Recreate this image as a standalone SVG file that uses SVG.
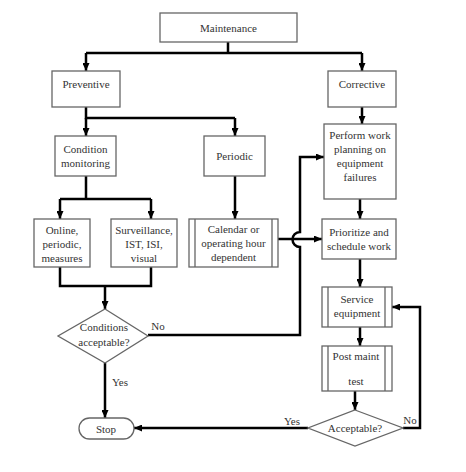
<svg xmlns="http://www.w3.org/2000/svg" width="466" height="472" viewBox="0 0 466 472" font-family="'Liberation Serif', 'Times New Roman', 'DejaVu Serif', serif">
<defs>
<marker id="ah" markerWidth="8" markerHeight="7" refX="8" refY="3.5" orient="auto" markerUnits="userSpaceOnUse">
<path d="M0,0 L8,3.5 L0,7 z" fill="#000"/>
</marker>
<style>
.box{fill:#fff;stroke:#666;stroke-width:1.3}
.in{fill:none;stroke:#666;stroke-width:1.3}
.t{font-family:'Liberation Serif','Times New Roman',serif;font-size:11px;fill:#333;text-anchor:middle}
.c{fill:none;stroke:#000;stroke-width:2.5}
.a{marker-end:url(#ah)}
</style>
</defs>
<rect width="466" height="472" fill="#fff"/>
<g id="connectors">
<path class="c" d="M228,42 V53 M86,53 H362"/>
<path class="c a" d="M86,53 V71"/>
<path class="c a" d="M362,53 V71"/>
<path class="c" d="M86,107 V118 H235"/>
<path class="c a" d="M86,118 V136"/>
<path class="c a" d="M235,118 V136"/>
<path class="c a" d="M362,107 V124"/>
<path class="c" d="M86,176 V199 M60,199 H151"/>
<path class="c a" d="M60,199 V219"/>
<path class="c a" d="M151,199 V219"/>
<path class="c a" d="M235,176 V219"/>
<path class="c" d="M60,267 V286 H151 V267"/>
<path class="c a" d="M105,286 V309"/>
<path class="c a" d="M278,239 H322"/>
<path class="c a" d="M148,335 H300 V247 A7.5,7.5 0 0 1 300,232 V157 H324"/>
<path class="c a" d="M360,199 V219"/>
<path class="c a" d="M360,259 V287"/>
<path class="c a" d="M360,327 V346"/>
<path class="c a" d="M355,391 V410"/>
<path class="c a" d="M105,363 V418"/>
<path class="c a" d="M308,428 H134"/>
<path class="c a" d="M403,428 H420 V307 H392"/>
<text class="t" x="158" y="330">No</text>
<text class="t" x="120" y="386">Yes</text>
<text class="t" x="292" y="425">Yes</text>
<text class="t" x="410" y="424">No</text>
</g>
<g id="maintenance"><rect class="box" x="160" y="13" width="137" height="29"/><text class="t" x="228.5" y="31.5">Maintenance</text></g>
<g id="preventive"><rect class="box" x="52" y="71" width="68" height="36"/><text class="t" x="86" y="87.5">Preventive</text></g>
<g id="corrective"><rect class="box" x="328" y="71" width="68" height="36"/><text class="t" x="362" y="87.5">Corrective</text></g>
<g id="condition"><rect class="box" x="55" y="136" width="61" height="40"/><text class="t" x="85.5" y="153">Condition</text><text class="t" x="85.5" y="167">monitoring</text></g>
<g id="periodic"><rect class="box" x="204" y="136" width="61" height="40"/><text class="t" x="234.5" y="160">Periodic</text></g>
<g id="perform"><rect class="box" x="324" y="124" width="72" height="75"/><text class="t" x="360" y="139">Perform work</text><text class="t" x="360" y="153">planning on</text><text class="t" x="360" y="167">equipment</text><text class="t" x="360" y="181">failures</text></g>
<g id="online"><rect class="box" x="34" y="219" width="56" height="48"/><text class="t" x="62" y="234">Online,</text><text class="t" x="62" y="248">periodic,</text><text class="t" x="62" y="262">measures</text></g>
<g id="surveillance"><rect class="box" x="111" y="219" width="66" height="48"/><text class="t" x="144" y="234">Surveillance,</text><text class="t" x="144" y="248">IST, ISI,</text><text class="t" x="144" y="262">visual</text></g>
<g id="calendar"><rect class="box" x="189" y="219" width="89" height="48"/><path class="in" d="M195,219 V267 M272,219 V267"/><text class="t" x="233.5" y="233">Calendar or</text><text class="t" x="233.5" y="247">operating hour</text><text class="t" x="233.5" y="261">dependent</text></g>
<g id="prioritize"><rect class="box" x="322" y="219" width="74" height="40"/><text class="t" x="359" y="236">Prioritize and</text><text class="t" x="359" y="250">schedule work</text></g>
<g id="service"><rect class="box" x="322" y="287" width="70" height="40"/><path class="in" d="M328,287 V327 M385,287 V327"/><text class="t" x="357" y="303">Service</text><text class="t" x="357" y="317">equipment</text></g>
<g id="postmaint"><rect class="box" x="322" y="346" width="70" height="45"/><path class="in" d="M328,346 V391 M385,346 V391"/><text class="t" x="356" y="360">Post maint</text><text class="t" x="356" y="385">test</text></g>
<g id="cond-acceptable"><path class="box" d="M105,309 L148,336 L105,363 L58,336 Z"/><text class="t" x="104" y="331">Conditions</text><text class="t" x="104" y="346">acceptable?</text></g>
<g id="acceptable"><path class="box" d="M355,410 L403,428 L355,446 L308,428 Z"/><text class="t" x="355" y="432">Acceptable?</text></g>
<g id="stop"><rect class="box" x="79" y="418" width="55" height="21" rx="10.5"/><text class="t" x="106" y="432.5">Stop</text></g>
</svg>
